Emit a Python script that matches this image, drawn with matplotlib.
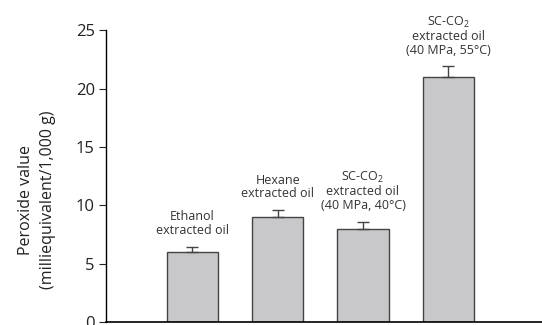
import matplotlib
matplotlib.use("Agg")
import matplotlib.pyplot as plt

plt.rcParams['font.family'] = ['Open Sans', 'DejaVu Sans']
plt.rcParams['mathtext.fontset'] = 'custom'
plt.rcParams['mathtext.rm'] = 'Open Sans'

labels = ['Ethanol\nextracted oil',
          'Hexane\nextracted oil',
          'SC-CO$\\mathregular{_2}$\nextracted oil\n(40 MPa, 40°C)',
          'SC-CO$\\mathregular{_2}$\nextracted oil\n(40 MPa, 55°C)']
values = [6.0, 9.0, 8.0, 21.0]
errors = [0.45, 0.6, 0.6, 0.9]
yticks = [0, 5, 10, 15, 20, 25]

fig = plt.figure(figsize=(5.42, 3.25), dpi=100)
ax = fig.add_axes([0.1956, 0.0092, 0.8044, 0.898])

x = list(range(len(values)))
ax.bar(x, values, width=0.6, color='#c8c8ca', edgecolor='#444444', linewidth=1.0,
       yerr=[[0] * len(errors), errors], capsize=4,
       error_kw=dict(ecolor='#444444', elinewidth=1.0, capthick=1.0))

for xi, v, e, lab in zip(x, values, errors, labels):
    ax.annotate(lab, (xi, v + e), xytext=(0, 7), textcoords='offset points',
                ha='center', va='bottom', fontsize=9, linespacing=1.05,
                color='#333333')

ax.set_xlim(-1.014, 4.1)
ax.set_ylim(0, 25)
ax.set_yticks(yticks)
ax.set_xticks([])
ax.tick_params(axis='y', labelsize=12, length=5, width=0.8, pad=3, colors='#222222')
for s in ['top', 'right']:
    ax.spines[s].set_visible(False)
ax.spines['left'].set_linewidth(1.0)
ax.spines['bottom'].set_linewidth(1.2)

fig.text(0.068, 0.385, 'Peroxide value\n(milliequivalent/1,000 g)', rotation=90,
         ha='center', va='center', fontsize=11.5, linespacing=1.45, color='#222222')

fig.savefig('out.png', dpi=100)
